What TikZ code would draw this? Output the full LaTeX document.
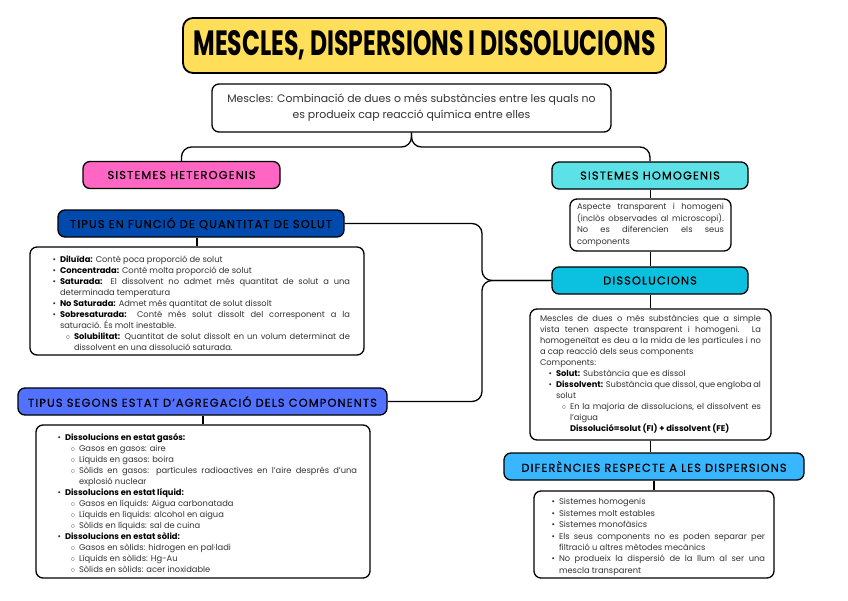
\documentclass[tikz,border=0pt]{standalone}
\usepackage{fontspec}
\setmainfont{Poppins}
\newfontfamily\headfont[LetterSpace=10, FakeBold=0.6]{Poppins}
\usepackage{graphicx}
\usepackage{xcolor}
\usepackage{enumitem}
\setlist[itemize]{nosep}
\setlist[itemize,1]{label=\textbullet, leftmargin=16pt, labelsep=4pt}
\setlist[itemize,2]{label={$\circ$}, leftmargin=14pt, labelsep=4pt}
\definecolor{mixYellow}{HTML}{FFDE59}
\definecolor{hetPink}{HTML}{FF66C4}
\definecolor{homCyan}{HTML}{5CE1E6}
\definecolor{dissTeal}{HTML}{0CC0DF}
\definecolor{solutBlue}{HTML}{004AAD}
\definecolor{estatBlue}{HTML}{5271FF}
\definecolor{difBlue}{HTML}{38B6FF}
\newcommand{\terme}[1]{\textbf{\color{black}#1}}
\hyphenpenalty=10000
\exhyphenpenalty=10000
\usetikzlibrary{calc}

\begin{document}
\begin{tikzpicture}[x=1pt, y=-1pt,
  box/.style={draw=black, line width=1.3pt, rounded corners=7pt, fill=white},
  head/.style={box, minimum height=27pt, font=\headfont\fontsize{11.4}{13}\selectfont, text=black},
  txt/.style={box, inner ysep=0pt, font=\fontsize{8.3}{11}\selectfont, text=black!80, align=justify},
  conn/.style={line width=1.3pt, rounded corners=10pt}]
  \fill[white] (0,0) rectangle (848,600);
  \useasboundingbox (0,0) rectangle (848,600);
  % ------- title and definition -------
  \node[box, fill=mixYellow, line width=1.8pt, rounded corners=10pt, minimum width=483pt, minimum height=55pt]
    (titol) at (424.5,45.5) {\resizebox{462pt}{25pt}{\bfseries MESCLES, DISPERSIONS I DISSOLUCIONS}};
  \node[box, minimum width=399pt, minimum height=48pt, font=\fontsize{10.9}{16}\selectfont, align=center, text=black!80]
    (mescles) at (411.5,108) {Mescles: Combinació de dues o més substàncies entre les quals no\\ es produeix cap reacció química entre elles};
  % ------- left: heterogeneous -------
  \node[head, fill=hetPink, minimum width=197pt] (hetero) at (181.5,175) {SISTEMES HETEROGENIS};
  \node[head, fill=solutBlue, minimum width=286pt] (funcio) at (201,223.5) {TIPUS EN FUNCIÓ DE QUANTITAT DE SOLUT};
  \node[txt, minimum width=334pt, minimum height=108pt, text width=306pt, inner xsep=14pt] (quantitat) at (197,301) {%
    \begin{itemize}
      \item \terme{Diluïda:} Conté poca proporció de solut
      \item \terme{Concentrada:} Conté molta proporció de solut
      \item \terme{Saturada:} El dissolvent no admet més quantitat de solut a una\linebreak determinada temperatura
      \item \terme{No Saturada:} Admet més quantitat de solut dissolt
      \item \terme{Sobresaturada:} Conté més solut dissolt del corresponent a la\linebreak saturació. És molt inestable.
      \begin{itemize}
        \item \terme{Solubilitat:} Quantitat de solut dissolt en un volum determinat de\linebreak dissolvent en una dissolució saturada.
      \end{itemize}
    \end{itemize}};
  \node[head, fill=estatBlue, minimum width=369pt] (estat) at (202.5,401.5) {TIPUS SEGONS ESTAT D’AGREGACIÓ DELS COMPONENTS};
  \node[txt, minimum width=334pt, minimum height=153pt, text width=308pt, inner xsep=13pt] (agregacio) at (203,501.5) {%
    \begin{itemize}
      \item \terme{Dissolucions en estat gasós:}
      \begin{itemize}
        \item Gasos en gasos: aire
        \item Líquids en gasos: boira
        \item Sòlids en gasos: partícules radioactives en l’aire després d’una\linebreak explosió nuclear
      \end{itemize}
      \item \terme{Dissolucions en estat líquid:}
      \begin{itemize}
        \item Gasos en líquids: Aigua carbonatada
        \item Líquids en líquids: alcohol en aigua
        \item Sòlids en líquids: sal de cuina
      \end{itemize}
      \item \terme{Dissolucions en estat sòlid:}
      \begin{itemize}
        \item Gasos en sòlids: hidrogen en pal·ladi
        \item Líquids en sòlids: Hg-Au
        \item Sòlids en sòlids: acer inoxidable
      \end{itemize}
    \end{itemize}};
  % ------- right: homogeneous -------
  \node[head, fill=homCyan, minimum width=196pt] (homo) at (650,175.5) {SISTEMES HOMOGENIS};
  \node[txt, minimum width=161pt, minimum height=52pt, text width=147pt, inner xsep=7pt, font=\fontsize{8.3}{11.5}\selectfont]
    (aspecte) at (650.5,225) {Aspecte transparent i homogeni\linebreak (inclòs observades al microscopi).\linebreak No es diferencien els seus\linebreak components};
  \node[head, fill=dissTeal, minimum width=196pt] (dissol) at (650,280.5) {DISSOLUCIONS};
  \node[txt, minimum width=241pt, minimum height=131pt, text width=221pt, inner xsep=10pt] (definicio) at (650.5,374.5) {%
    Mescles de dues o més substàncies que a simple\linebreak vista tenen aspecte transparent i homogeni. La\linebreak homogeneïtat es deu a la mida de les partícules i no\linebreak a cap reacció dels seus components\par
    Components:
    \begin{itemize}
      \item \terme{Solut:} Substància que es dissol
      \item \terme{Dissolvent:} Substància que dissol, que engloba al\linebreak solut
      \begin{itemize}
        \item En la majoria de dissolucions, el dissolvent es\linebreak l’aigua\\
        \terme{Dissolució=solut (FI) + dissolvent (FE)}
      \end{itemize}
    \end{itemize}};
  \node[head, fill=difBlue, minimum width=300pt] (diferencies) at (654,466.5) {DIFERÈNCIES RESPECTE A LES DISPERSIONS};
  \node[txt, minimum width=240pt, minimum height=87pt, text width=222pt, inner xsep=9pt, font=\fontsize{8.3}{11.4}\selectfont] (trets) at (654,534.5) {%
    \begin{itemize}
      \item Sistemes homogenis
      \item Sistemes molt estables
      \item Sistemes monofàsics
      \item Els seus components no es poden separar per\linebreak filtració u altres mètodes mecànics
      \item No produeix la dispersió de la llum al ser una\linebreak mescla transparent
    \end{itemize}};
  % ------- connectors -------
  \coordinate (clau) at (411.5,147);
  \coordinate (nus) at (482,280.5);
  \draw[conn] (hetero.north) |- (clau) -- (mescles.south);
  \draw[conn] (homo.north) |- (clau) -- (mescles.south);
  \draw[conn] (funcio.east) -| (nus) -- (dissol.west);
  \draw[conn] (estat.east) -| (nus) -- (dissol.west);
  \draw[conn] (aspecte.north) -- (aspecte.north |- homo.south);
  \draw[conn] (aspecte.south) -- (aspecte.south |- dissol.north);
  \draw[conn] (definicio.north) -- (definicio.north |- dissol.south);
  \draw[conn] (definicio.south) -- (definicio.south |- diferencies.north);
  \draw[conn] (trets.north) -- (trets.north |- diferencies.south);
  \draw[conn] (quantitat.north) -- (quantitat.north |- funcio.south);
  \draw[conn] (agregacio.north) -- (agregacio.north |- estat.south);
\end{tikzpicture}
\end{document}
